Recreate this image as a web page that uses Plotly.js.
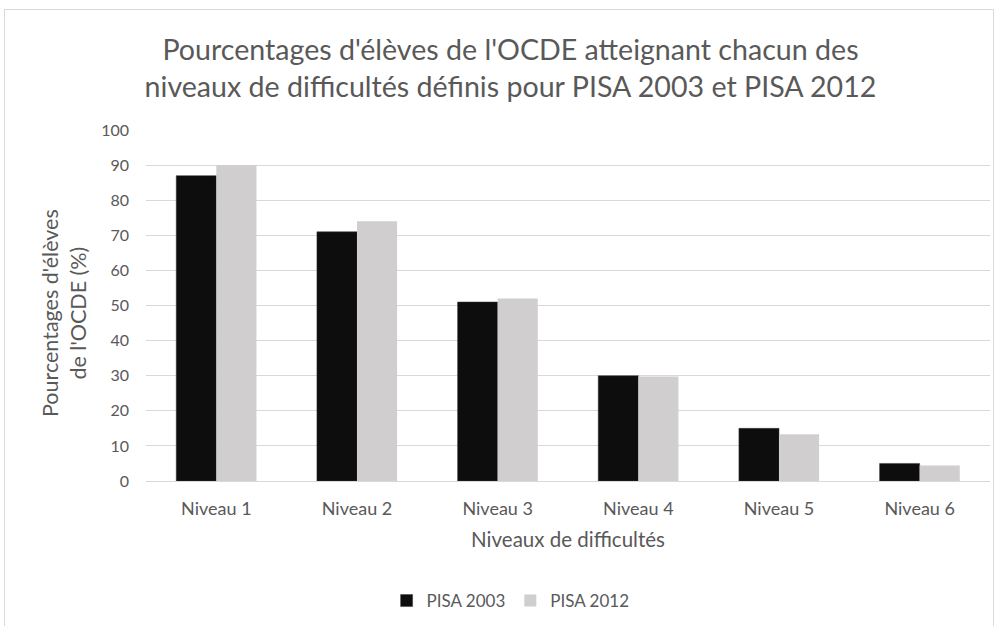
<!DOCTYPE html>
<html>
<head>
<meta charset="utf-8">
<script src="https://cdn.plot.ly/plotly-3.0.1.min.js"></script>
<style>
html,body{margin:0;padding:0;background:#fff;}
#frame{position:absolute;left:4px;top:9px;width:990px;height:640px;border:1px solid #d9d9d9;box-sizing:border-box;pointer-events:none;z-index:5;}
#chart{width:999px;height:626px;}
</style>
</head>
<body>
<div id="frame"></div>
<div id="chart"></div>
<script>
const categories = ["Niveau 1", "Niveau 2", "Niveau 3", "Niveau 4", "Niveau 5", "Niveau 6"];
const pisa2003 = [87, 71, 51, 30, 15, 5];
const pisa2012 = [90, 74, 52, 29.8, 13.3, 4.4];
const seriesNames = ["PISA 2003", "PISA 2012"];
const yTicks = [0, 10, 20, 30, 40, 50, 60, 70, 80, 90, 100];
const yTitle = "Pourcentages d'élèves<br>de l'OCDE (%)";

const font = "Lato, 'Open Sans', sans-serif";
const traces = [
  {type: "bar", name: seriesNames[0], x: categories, y: pisa2003,
   marker: {color: "#0d0d0d", line: {color: "#3a3a3a", width: 0.5}}},
  {type: "bar", name: seriesNames[1], x: categories, y: pisa2012,
   marker: {color: "#d0cece"}}
];
const layout = {
  width: 999, height: 626,
  margin: {l: 146, r: 9, t: 130, b: 145},
  paper_bgcolor: "rgba(0,0,0,0)", plot_bgcolor: "#fff",
  font: {family: font, color: "#595959", size: 16},
  title: {
    text: "Pourcentages d'élèves de l'OCDE atteignant chacun des<br>niveaux de difficultés définis pour PISA 2003 et PISA 2012",
    font: {family: font, size: 28.6, color: "#595959"},
    x: 0.511, xanchor: "center", y: 0.904, yanchor: "top"
  },
  barmode: "group", bargap: 0.43, bargroupgap: 0,
  xaxis: {
    showgrid: false, showline: true, linecolor: "#d9d9d9", linewidth: 1,
    ticks: "", tickfont: {size: 18, color: "#595959"}, ticklabelstandoff: 11,
    title: {text: "Niveaux de difficultés", font: {size: 20.5, color: "#595959"}, standoff: 15}
  },
  yaxis: {
    range: [0, 100], tickvals: yTicks, showgrid: true, gridcolor: "#d9d9d9", gridwidth: 1,
    zeroline: false, showline: false, ticks: "", ticklabelstandoff: 16,
    tickfont: {size: 16, color: "#595959"}
  },
  annotations: [{
    text: yTitle, textangle: -90, showarrow: false,
    xref: "paper", yref: "paper", x: (64 - 146) / 844, y: (481 - 313) / 351,
    xanchor: "center", yanchor: "middle", align: "center",
    font: {family: font, size: 21.5, color: "#595959"}
  }],
  legend: {
    orientation: "h", x: 0.432, xanchor: "center", yref: "container", y: 1 - 601 / 626, yanchor: "middle",
    font: {size: 17, color: "#595959"}, itemwidth: 30, traceorder: "normal"
  },
  showlegend: true
};
Plotly.newPlot("chart", traces, layout, {displayModeBar: false, staticPlot: true});
</script>
</body>
</html>
